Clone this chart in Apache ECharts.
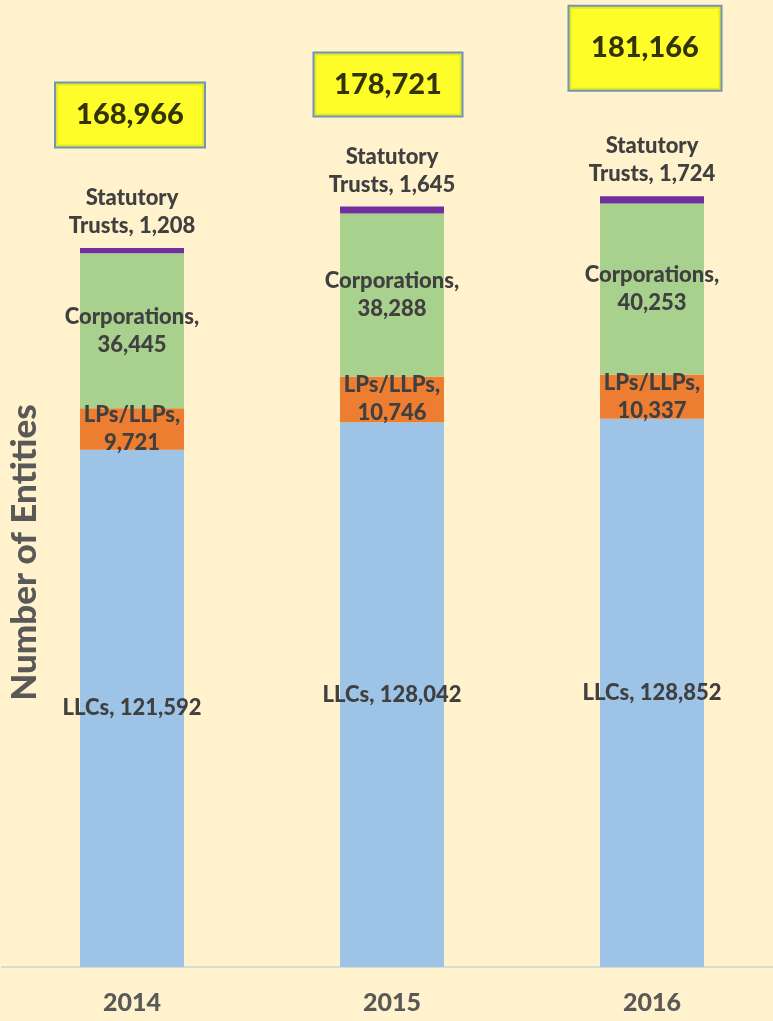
<!DOCTYPE html>
<html>
<head>
<meta charset="utf-8">
<script src="https://cdn.jsdelivr.net/npm/echarts@6/dist/echarts.min.js"></script>
<style>
  html, body { margin: 0; padding: 0; background: #FFF2CC; }
  #chart { width: 773px; height: 1021px; }
</style>
</head>
<body>
<div id="chart"></div>
<script>
const years = ['2014', '2015', '2016'];
const llcs = [121592, 128042, 128852];
const lps = [9721, 10746, 10337];
const corps = [36445, 38288, 40253];
const trusts = [1208, 1645, 1724];
const totals = [168966, 178721, 181166];

// yellow total boxes: offset from bar top, content size, padding
const boxes = [
  {offset: [-2, -133], width: 148, height: 63, padding: 0},
  {offset: [-4, -122], width: 147, height: 62, padding: 0},
  {offset: [-7, -148], width: 151, height: 69, padding: [0, 0, 14, 0]}
];

const fmt = v => v.toLocaleString('en-US');

const labelBase = {
  show: true,
  color: '#404040',
  fontFamily: 'Lato',
  fontWeight: 900,
  fontSize: 22,
  lineHeight: 28
};

const chart = echarts.init(document.getElementById('chart'));

const option = {
  backgroundColor: '#FFF2CC',
  animation: false,
  grid: {left: 2, right: -9, top: 116, bottom: 54, outerBoundsMode: 'none'},
  xAxis: {
    type: 'category',
    data: years,
    axisLine: {lineStyle: {color: '#D9D9D9', width: 2}},
    axisTick: {show: false},
    axisLabel: {
      margin: 23,
      color: '#595959',
      fontFamily: 'Lato',
      fontWeight: 900,
      fontSize: 25
    }
  },
  yAxis: {
    type: 'value',
    min: 0,
    max: 200000,
    axisLine: {show: false},
    axisTick: {show: false},
    axisLabel: {show: false},
    splitLine: {show: false},
    name: 'Number of Entities',
    nameLocation: 'middle',
    nameRotate: 90,
    nameGap: -40,
    nameTextStyle: {
      color: '#595959',
      fontFamily: 'Lato',
      fontWeight: 900,
      fontSize: 35,
      padding: [0, 22, 0, 0]
    }
  },
  series: [
    {
      name: 'LLCs', type: 'bar', stack: 'all', barWidth: 104,
      data: llcs,
      itemStyle: {color: '#9DC3E6'},
      label: Object.assign({}, labelBase, {
        position: 'inside',
        formatter: p => 'LLCs, ' + fmt(p.value)
      })
    },
    {
      name: 'LPs/LLPs', type: 'bar', stack: 'all', barWidth: 104,
      data: lps,
      itemStyle: {color: '#ED7D31'},
      label: Object.assign({}, labelBase, {
        position: 'inside',
        formatter: p => 'LPs/LLPs,\n' + fmt(p.value)
      })
    },
    {
      name: 'Corporations', type: 'bar', stack: 'all', barWidth: 104,
      data: corps,
      itemStyle: {color: '#A9D18E'},
      label: Object.assign({}, labelBase, {
        position: 'inside',
        formatter: p => 'Corporations,\n' + fmt(p.value)
      })
    },
    {
      name: 'Statutory Trusts', type: 'bar', stack: 'all', barWidth: 104,
      data: trusts,
      itemStyle: {color: '#7030A0'},
      label: Object.assign({}, labelBase, {
        position: 'top',
        distance: 8,
        formatter: p => 'Statutory\nTrusts, ' + fmt(p.value)
      })
    },
    {
      name: 'Total', type: 'scatter',
      symbolSize: 0,
      z: 10,
      data: totals.map((v, i) => ({
        value: v,
        label: {
          offset: boxes[i].offset,
          width: boxes[i].width,
          height: boxes[i].height,
          padding: boxes[i].padding
        }
      })),
      label: {
        show: true,
        position: 'inside',
        align: 'center',
        verticalAlign: 'middle',
        formatter: p => fmt(p.value),
        color: '#000000',
        fontFamily: 'Lato',
        fontWeight: 900,
        fontSize: 29,
        backgroundColor: '#FFFF00',
        borderColor: '#4F7DB0',
        borderWidth: 2
      }
    }
  ]
};

chart.setOption(option);
</script>
</body>
</html>
